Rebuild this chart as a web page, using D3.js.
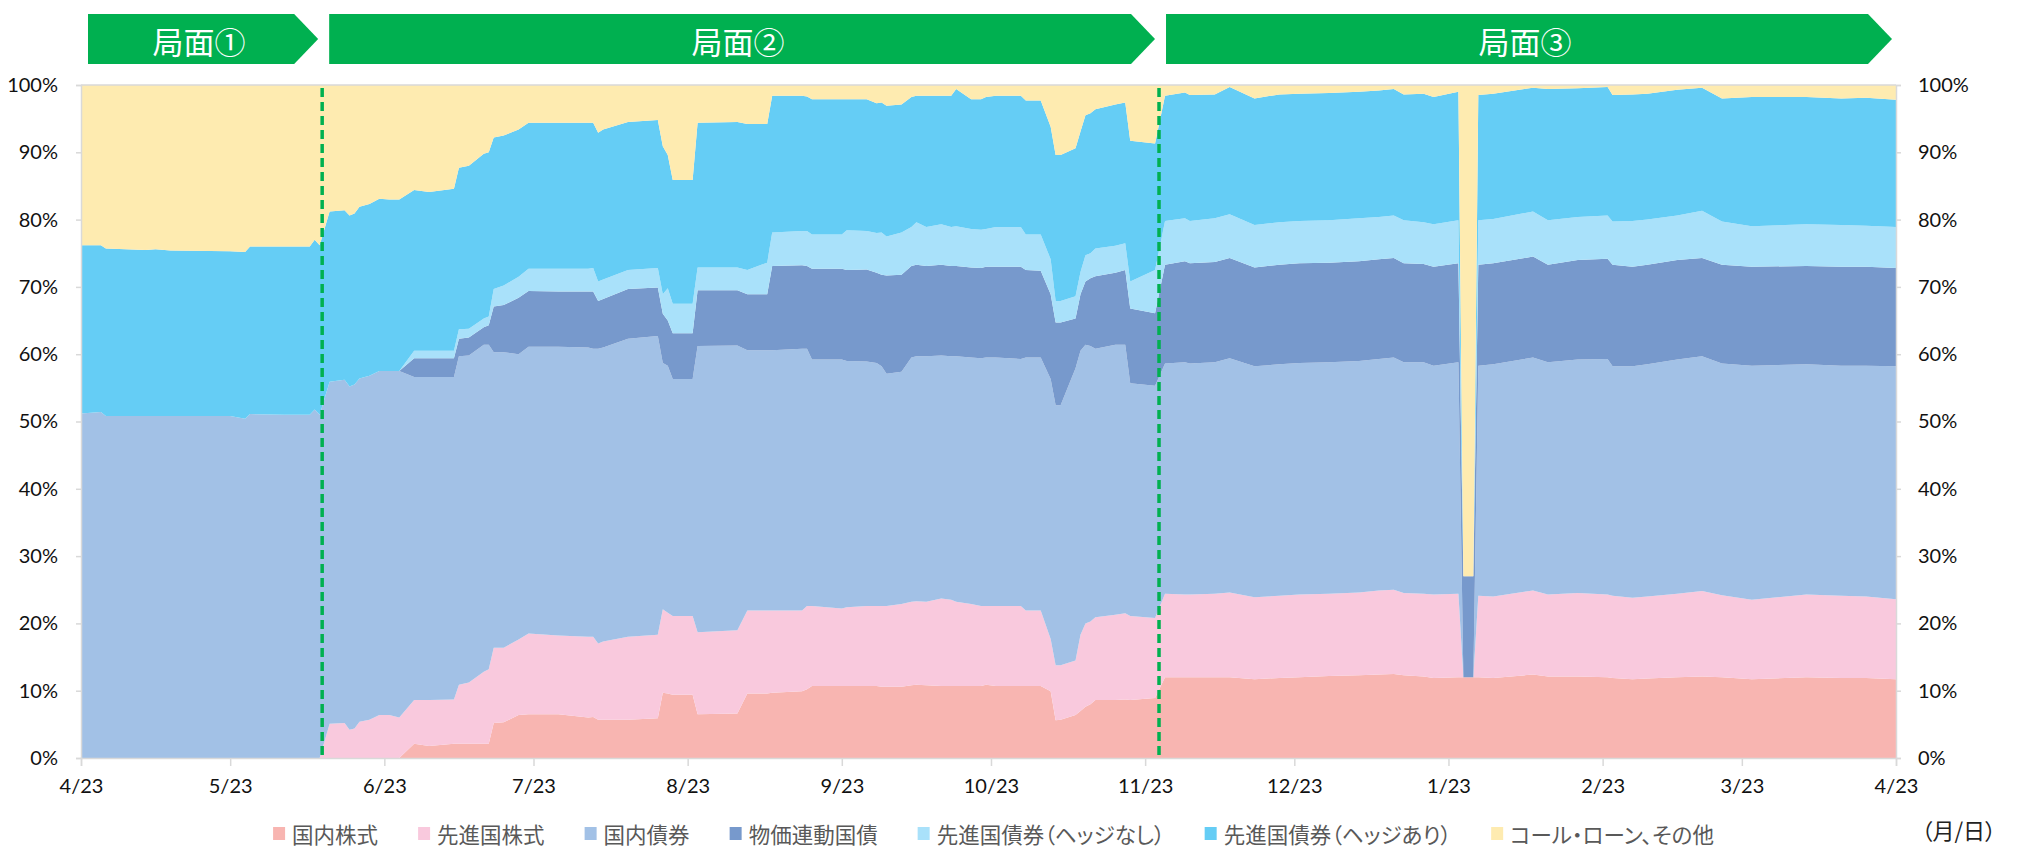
<!DOCTYPE html>
<html>
<head>
<meta charset="utf-8">
<script src="https://cdn.jsdelivr.net/npm/d3@7"></script>
<style>
body{margin:0;background:#fff;}
svg text{font-family:Lato,"Liberation Sans",sans-serif;}
svg text.jp{font-family:"Noto Sans CJK JP",sans-serif;font-feature-settings:"palt";}
svg text.phase{font-family:"Noto Sans CJK JP",sans-serif;}
</style>
</head>
<body>
<svg class="chart" width="2017" height="848"></svg>
<script>
var svg = d3.select("svg.chart");
var parseDay = d3.timeParse("%Y-%m-%d");
var parseHour = d3.timeParse("%Y-%m-%d %H");

var dates = [
  "2022-04-23","2022-04-27","2022-04-28","2022-05-06","2022-05-08","2022-05-11","2022-05-23","2022-05-26","2022-05-27","2022-06-03","2022-06-08","2022-06-09","2022-06-10",
  "2022-06-12","2022-06-15","2022-06-16","2022-06-17","2022-06-18","2022-06-20","2022-06-22","2022-06-24","2022-06-26","2022-06-29",
  "2022-07-02","2022-07-07","2022-07-08","2022-07-10","2022-07-13","2022-07-14","2022-07-15","2022-07-17","2022-07-20","2022-07-22","2022-07-28",
  "2022-08-03","2022-08-04","2022-08-05","2022-08-06","2022-08-11","2022-08-17","2022-08-18","2022-08-19","2022-08-20","2022-08-24","2022-08-25",
  "2022-09-02","2022-09-04","2022-09-08","2022-09-09","2022-09-15","2022-09-16","2022-09-17","2022-09-23","2022-09-24","2022-09-28","2022-09-30",
  "2022-10-01","2022-10-02","2022-10-05","2022-10-07","2022-10-08","2022-10-10","2022-10-13","2022-10-15","2022-10-16","2022-10-19","2022-10-21","2022-10-22","2022-10-24","2022-10-29","2022-10-30",
  "2022-11-02","2022-11-04","2022-11-05","2022-11-06","2022-11-09","2022-11-10","2022-11-11","2022-11-12","2022-11-13","2022-11-17","2022-11-19","2022-11-20","2022-11-25",
  "2022-11-27","2022-12-01","2022-12-02","2022-12-07","2022-12-10","2022-12-15","2022-12-20","2022-12-24","2022-12-30","2023-01-05","2023-01-09","2023-01-12","2023-01-14","2023-01-18","2023-01-20","2023-01-25",
  "2023-01-26","2023-01-28","2023-01-29","2023-02-01","2023-02-09","2023-02-12","2023-02-18","2023-02-24","2023-02-25","2023-03-01","2023-03-04","2023-03-10","2023-03-15","2023-03-19","2023-03-25","2023-04-05","2023-04-12","2023-04-17","2023-04-23"
];

// values in %, one per date
var kokunaiKabu = [
  0,0,0,0,0,0,0,0,0,0,0,0,0,
  0,0,0,0,0,0,0,0,0,2.1,
  1.8,2.1,2.1,2.1,2.1,2.1,5.2,5.3,6.4,6.5,6.5,
  6.0,6.1,5.7,5.7,5.7,5.9,9.7,9.6,9.4,9.4,6.5,
  6.6,9.6,9.6,9.7,9.9,10.2,10.7,10.7,10.7,10.7,10.7,
  10.6,10.6,10.6,10.8,10.9,10.8,10.7,10.7,10.7,10.7,10.7,10.9,10.7,10.7,10.7,
  10.7,9.9,5.6,5.7,6.4,7.0,7.6,8.0,8.6,8.6,8.7,8.6,8.9,
  12.0,12.0,12.0,12.0,12.0,11.7,11.9,12.0,12.2,12.3,12.4,12.5,12.3,12.1,11.9,12.0,
  12.0,12.0,12.0,11.9,12.4,12.1,12.1,12.0,11.9,11.7,11.8,12.0,12.1,12.0,11.7,12.0,11.9,11.9,11.7
];
var senshinKabu = [
  0,0,0,0,0,0,0,0,0,0,0,0,0,
  5.1,5.2,4.2,4.4,5.4,5.7,6.4,6.4,6.0,6.5,
  6.8,6.6,8.8,9.1,10.7,11.1,11.2,11.1,11.2,12.0,11.7,
  12.0,11.9,11.3,11.6,12.3,12.4,12.4,12.0,11.7,11.7,12.2,
  12.4,12.3,12.3,12.2,12.0,12.4,11.9,11.5,11.7,11.9,11.9,
  12.0,12.0,12.3,12.4,12.4,12.4,13.0,12.8,12.5,12.2,11.9,11.7,11.9,11.9,11.2,
  11.2,7.8,8.2,8.1,8.1,11.3,12.4,12.3,12.3,12.7,12.8,12.5,11.9,
  12.4,12.3,12.3,12.4,12.6,12.2,12.2,12.3,12.2,12.3,12.5,12.5,12.2,12.3,12.4,12.4,
  0,0,12.1,12.1,12.5,12.2,12.4,12.3,12.2,12.1,12.2,12.4,12.7,12.2,11.8,12.3,12.2,12.1,11.9
];
var kokunaiSaiken = [
  51.2,51.4,50.8,50.8,50.8,50.8,50.8,50.4,51.1,51.0,51.0,51.8,51.0,
  50.8,51.0,51.0,51.1,51.0,51.1,51.1,51.1,51.5,48.0,
  48.0,47.9,48.8,48.6,48.6,48.2,43.9,43.9,42.4,42.6,42.9,
  43.0,42.8,43.8,43.7,44.3,44.4,36.6,36.7,35.2,35.2,42.5,
  42.3,38.7,38.7,38.7,38.9,38.2,36.6,37.0,36.6,36.3,36.1,
  35.6,34.5,34.5,36.3,36.4,36.5,36.1,36.2,36.5,36.6,36.8,36.9,36.9,36.7,37.6,
  37.6,38.6,38.6,38.6,43.4,42.2,41.4,40.9,39.9,40.1,39.9,34.6,34.5,
  34.2,34.5,34.3,34.4,34.8,34.3,34.4,34.4,34.4,34.4,34.4,34.5,34.3,34.4,34.0,34.4,
  0,0,34.2,34.5,34.6,34.5,34.7,35.0,34.1,34.4,34.5,34.8,34.9,34.4,34.8,34.2,34.2,34.3,34.6
];
var bukkaRendo = [
  0,0,0,0,0,0,0,0,0,0,0,0,0,
  0,0,0,0,0,0,0,0,0,2.8,
  2.8,2.8,2.6,2.7,2.6,2.9,6.8,7.0,8.4,8.3,8.2,
  8.3,8.5,7.1,7.2,7.4,7.2,7.3,6.7,6.8,6.8,8.3,
  8.2,8.3,8.3,12.5,12.4,12.3,13.5,13.5,13.5,13.7,13.4,
  13.6,14.6,14.4,13.6,13.6,13.4,13.5,13.4,13.4,13.4,13.4,13.5,13.5,13.7,13.0,
  12.9,12.6,12.3,12.3,7.4,8.4,9.4,10.1,10.8,10.7,11.1,11.1,10.8,
  14.7,15.0,14.9,14.9,14.9,14.7,14.8,14.8,14.8,14.8,14.8,14.8,14.7,14.6,14.7,14.7,
  15.0,15.0,15.0,15.0,15.0,14.5,14.8,14.9,15.1,14.8,14.8,14.8,14.6,14.7,14.7,14.6,14.7,14.7,14.6
];
var hedgeNashi = [
  0,0,0,0,0,0,0,0,0,0,0,0,0,
  0,0,0,0,0,0,0,0,0,1.1,
  1.1,1.1,1.4,1.3,1.3,1.3,2.6,2.9,3.1,3.3,3.4,
  3.4,3.5,2.9,2.9,2.8,2.9,2.9,4.8,4.4,4.4,3.4,
  3.4,3.6,4.7,5.0,5.1,5.2,5.1,5.1,5.9,5.7,5.9,
  6.3,5.8,6.3,5.8,6.3,5.8,6.0,5.8,5.9,5.7,5.7,5.6,5.9,5.9,5.3,
  5.4,5.2,3.2,3.2,3.3,3.3,3.9,3.7,4.1,4.0,4.0,4.0,6.4,
  6.5,6.4,6.3,6.5,6.5,6.3,6.3,6.3,6.3,6.4,6.3,6.3,6.4,6.2,6.3,6.4,
  0,0,6.6,6.6,6.7,6.6,6.4,6.4,6.4,6.8,6.7,6.6,7.0,6.4,6.0,6.2,6.2,6.1,6.1
];
var hedgeAri = [
  25.0,24.8,24.9,24.7,24.8,24.6,24.5,24.8,24.9,25.0,25.0,25.2,25.2,
  25.3,25.2,25.4,25.4,25.5,25.5,25.6,25.5,25.5,23.9,
  23.6,24.1,24.0,24.2,24.5,24.4,22.5,22.3,21.9,21.7,21.7,
  21.7,21.6,22.1,22.3,22.0,22.0,22.0,19.8,18.4,18.4,21.5,
  21.6,21.7,20.6,20.3,20.1,20.0,20.1,20.1,19.5,19.6,19.3,
  19.3,19.4,19.0,19.3,18.8,19.5,19.1,19.5,20.4,19.3,19.4,19.6,19.5,19.5,19.9,
  19.9,19.7,21.7,21.7,22.0,20.9,20.8,20.8,20.7,21.0,20.9,20.9,18.8,
  18.6,18.7,18.7,18.4,18.9,18.8,19.0,18.9,18.9,18.8,18.8,18.8,18.7,19.1,18.9,19.1,
  0,0,18.6,18.6,18.4,19.5,19.1,19.1,18.8,18.8,18.7,18.7,18.3,18.3,19.2,18.9,18.8,19.0,18.9
];
var callLoan = [
  23.8,23.8,24.3,24.5,24.4,24.6,24.7,24.8,24.0,24.0,24.0,23.0,23.8,
  18.8,18.6,19.4,19.1,18.1,17.7,16.9,17.0,17.0,15.6,
  15.9,15.4,12.3,12.0,10.2,10.0,7.8,7.5,6.6,5.6,5.6,
  5.6,5.6,7.1,6.6,5.5,5.2,9.1,10.4,14.1,14.1,5.6,
  5.5,5.8,5.8,1.6,1.6,1.7,2.1,2.1,2.1,2.1,2.7,
  2.6,3.1,2.9,1.8,1.6,1.6,1.6,1.6,0.6,2.1,2.1,1.8,1.6,1.6,2.3,
  2.3,6.2,10.4,10.4,9.4,6.9,4.5,4.2,3.6,2.9,2.6,8.3,8.7,
  1.6,1.1,1.5,1.4,0.3,2.0,1.4,1.3,1.2,1.0,0.8,0.6,1.4,1.3,1.8,1.0,
  73.0,73.0,1.5,1.3,0.4,0.6,0.5,0.3,1.5,1.4,1.3,0.7,0.4,2.0,1.8,1.8,2.0,1.9,2.2
];

var categories = ["国内株式","先進国株式","国内債券","物価連動国債","先進国債券（ヘッジなし）","先進国債券（ヘッジあり）","コール・ローン、その他"];
var seriesValues = [kokunaiKabu, senshinKabu, kokunaiSaiken, bukkaRendo, hedgeNashi, hedgeAri, callLoan];
var colors = ["#f8b5b1","#f9c9dd","#a2c1e6","#7799cc","#a9e1fa","#65cdf5","#feebb0"];

var yTicks = [0,10,20,30,40,50,60,70,80,90,100];
var xTicks = ["2022-04-23","2022-05-23","2022-06-23","2022-07-23","2022-08-23","2022-09-23","2022-10-23",
              "2022-11-23","2022-12-23","2023-01-23","2023-02-23","2023-03-23","2023-04-23"];
var phaseLabels = ["局面①","局面②","局面③"];
var phaseBreaks = ["2022-06-10 12","2022-11-25 19"];
var unitLabel = "（月/日）";

var plotLeft = 81, plotRight = 1896, plotTop = 85, plotBottom = 758;
var green = "#00b050";

var x = d3.scaleTime()
    .domain([parseDay(xTicks[0]), parseDay(xTicks[xTicks.length-1])])
    .range([plotLeft, plotRight]);
var y = d3.scaleLinear().domain([0,100]).range([plotBottom, plotTop]);

var table = dates.map(function(d,i){
    var row = {date: parseDay(d)};
    categories.forEach(function(c,j){ row[c] = seriesValues[j][i]; });
    return row;
});
var stacked = d3.stack().keys(categories)(table);

var area = d3.area()
    .x(function(d){return x(d.data.date);})
    .y0(function(d){return y(d[0]);})
    .y1(function(d){return y(d[1]);});

svg.append("clipPath").attr("id","plotClip")
    .append("rect").attr("x",plotLeft).attr("y",plotTop)
    .attr("width",plotRight-plotLeft).attr("height",plotBottom-plotTop);

svg.append("g")
    .attr("clip-path","url(#plotClip)")
    .selectAll("path")
    .data(stacked)
    .enter().append("path")
    .attr("d", area)
    .attr("fill", function(d,i){return colors[i];});

// top border of plot
svg.append("line")
    .attr("x1",plotLeft).attr("x2",plotRight)
    .attr("y1",y(100)).attr("y2",y(100))
    .attr("stroke","#d9d9d9").attr("stroke-width",1.5);

var yLeft = svg.append("g")
    .attr("transform","translate("+plotLeft+",0)")
    .call(d3.axisLeft(y).tickValues(yTicks).tickSize(5).tickPadding(18)
        .tickFormat(function(d){return d+"%";}));
var yRight = svg.append("g")
    .attr("transform","translate("+plotRight+",0)")
    .call(d3.axisRight(y).tickValues(yTicks).tickSize(5).tickPadding(17)
        .tickFormat(function(d){return d+"%";}));
var xAxis = svg.append("g")
    .attr("transform","translate(0,"+plotBottom+")")
    .call(d3.axisBottom(x).tickValues(xTicks.map(parseDay)).tickSize(8).tickPadding(13)
        .tickFormat(d3.timeFormat("%-m/%-d")));

[yLeft, yRight, xAxis].forEach(function(g){
    g.selectAll(".domain").attr("stroke","#d9d9d9").attr("stroke-width",1.5);
    g.selectAll(".tick line").attr("stroke","#d9d9d9").attr("stroke-width",1.5);
    g.selectAll(".tick text").attr("fill","#111").style("font-size","20px");
});

// phase dividers
svg.append("g").selectAll("line")
    .data(phaseBreaks)
    .enter().append("line")
    .attr("x1",function(d){return x(parseHour(d));})
    .attr("x2",function(d){return x(parseHour(d));})
    .attr("y1",plotTop+3).attr("y2",plotBottom)
    .attr("stroke",green).attr("stroke-width",3.5)
    .attr("stroke-dasharray","9,5");

// phase banners
var edges = [x.domain()[0]].concat(phaseBreaks.map(parseHour)).concat([x.domain()[1]]);
var bTop = 14, bBot = 64, bMid = (bTop+bBot)/2, tipDepth = 24;
var banners = phaseLabels.map(function(label,i){
    return {label:label, x0:x(edges[i])+7, x1:x(edges[i+1])-4};
});
var banner = svg.append("g").selectAll("g")
    .data(banners)
    .enter().append("g");
banner.append("path")
    .attr("d",function(d){
        return "M"+d.x0+","+bTop+"L"+(d.x1-tipDepth)+","+bTop+"L"+d.x1+","+bMid+
               "L"+(d.x1-tipDepth)+","+bBot+"L"+d.x0+","+bBot+"Z";
    })
    .attr("fill",green);
banner.append("text")
    .attr("class","phase")
    .attr("x",function(d){return (d.x0+d.x1)/2-4;})
    .attr("y",bMid+1)
    .attr("text-anchor","middle")
    .attr("dominant-baseline","central")
    .attr("fill","#fff")
    .style("font-size","31px")
    .text(function(d){return d.label;});

// legend
var legend = svg.append("g");
var cursor = 0;
categories.forEach(function(c,i){
    var item = legend.append("g").attr("transform","translate("+cursor+",0)");
    item.append("rect").attr("x",0).attr("y",-6).attr("width",12).attr("height",13).attr("fill",colors[i]);
    var t = item.append("text").attr("class","jp")
        .attr("x",19).attr("y",0)
        .attr("dominant-baseline","central")
        .attr("fill","#595959")
        .style("font-size","21.5px")
        .text(c);
    cursor += 19 + t.node().getComputedTextLength() + 40;
});
var legendWidth = cursor - 40;
legend.attr("transform","translate("+((plotLeft+plotRight)/2 - legendWidth/2 + 5)+",833)");

svg.append("text")
    .attr("class","jp")
    .attr("x",1996).attr("y",829)
    .attr("text-anchor","end")
    .attr("dominant-baseline","central")
    .attr("fill","#222")
    .style("font-size","22px")
    .text(unitLabel);
</script>
</body>
</html>
